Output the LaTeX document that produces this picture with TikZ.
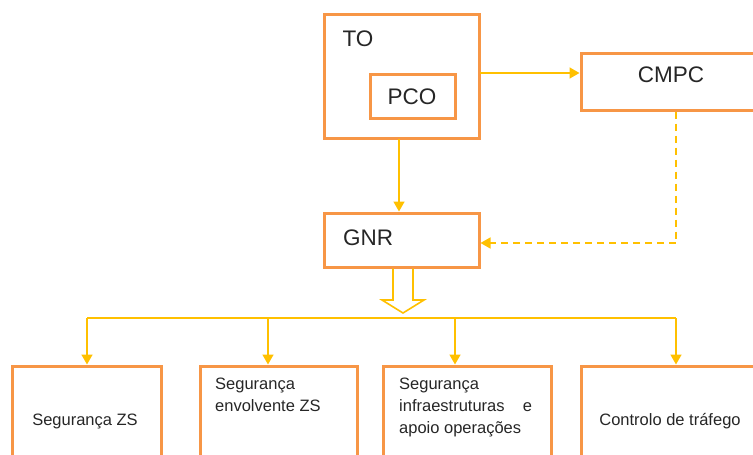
\documentclass[tikz,border=0pt]{standalone}
\usepackage{fontspec}
\setmainfont{Liberation Sans}
\usetikzlibrary{arrows.meta}
\definecolor{boxorange}{HTML}{F79646}
\definecolor{lineyellow}{HTML}{FFC000}
\begin{document}
\begin{tikzpicture}[x=1pt,y=-1pt,
    box/.style={draw=boxorange,line width=3pt,inner sep=0pt},
    link/.style={draw=lineyellow,line width=1.6pt,-{Triangle[length=10pt,width=11pt]}},
    bigtext/.style={font=\fontsize{22.5}{26}\selectfont,text=black!85},
    smalltext/.style={font=\fontsize{16.5}{22}\selectfont,text=black!85,align=left,inner sep=0pt}]
    \useasboundingbox (0,0) rectangle (753,455);
    % upper boxes
    \node[box,minimum width=155pt,minimum height=124pt] (to) at (401.5,76) {};
    \node[bigtext] (tolabel) at (358,39) {TO};
    \node[box,minimum width=85pt,minimum height=44pt] (pco) at (412.5,96) {};
    \node[bigtext] (pcolabel) at (412,97) {PCO};
    \node[box,minimum width=179pt,minimum height=57pt] (cmpc) at (670.5,81.5) {};
    \node[bigtext] (cmpclabel) at (671,75) {CMPC};
    \node[box,minimum width=155pt,minimum height=54pt] (gnr) at (401.5,240) {};
    \node[bigtext] (gnrlabel) at (368,238) {GNR};
    % lower boxes
    \node[box,minimum width=149pt,minimum height=104pt] (segzs) at (86.5,418) {};
    \node[box,minimum width=157pt,minimum height=104pt] (segenv) at (278.5,418) {};
    \node[box,minimum width=168pt,minimum height=104pt] (seginf) at (467,418) {};
    \node[box,minimum width=179pt,minimum height=104pt] (ctrl) at (670.5,418) {};
    \node[smalltext] (segzslabel) at (85,421) {Segurança ZS};
    \node[smalltext,anchor=north west] (segenvlabel) at (215,378) {Segurança\\envolvente ZS};
    \node[smalltext,anchor=north west] (seginflabel) at (399,378) {Segurança\\infraestruturas~~~~e\\apoio operações};
    \node[smalltext] (ctrllabel) at (670,421) {Controlo de tráfego};
    % connectors
    \coordinate (tg) at (399,139);
    \draw[link] (tg) -- (tg |- gnr.north);
    \coordinate (tc) at (480,73);
    \draw[link] (tc) -- (tc -| cmpc.west);
    \coordinate (cd) at (676,243);
    \draw[link,dash pattern=on 7pt off 5pt] (cmpc.south -| cd) -- (cd) -- (cd -| gnr.east);
    % hollow arrow
    \coordinate (tip) at (403,313);
    \draw[lineyellow,line width=1.6pt] (393,268.5) -- (393,300) -- (382,300) -- (tip)
        -- (424,300) -- (413,300) -- (413,268.5);
    % bus
    \draw[lineyellow,line width=1.6pt] (87,318) -- (676,318);
    \foreach \x/\n in {87/segzs,268/segenv,455/seginf,676/ctrl}{
        \coordinate (bus\n) at (\x,318);
        \draw[link] (bus\n) -- (bus\n |- \n.north);
    }
\end{tikzpicture}
\end{document}
